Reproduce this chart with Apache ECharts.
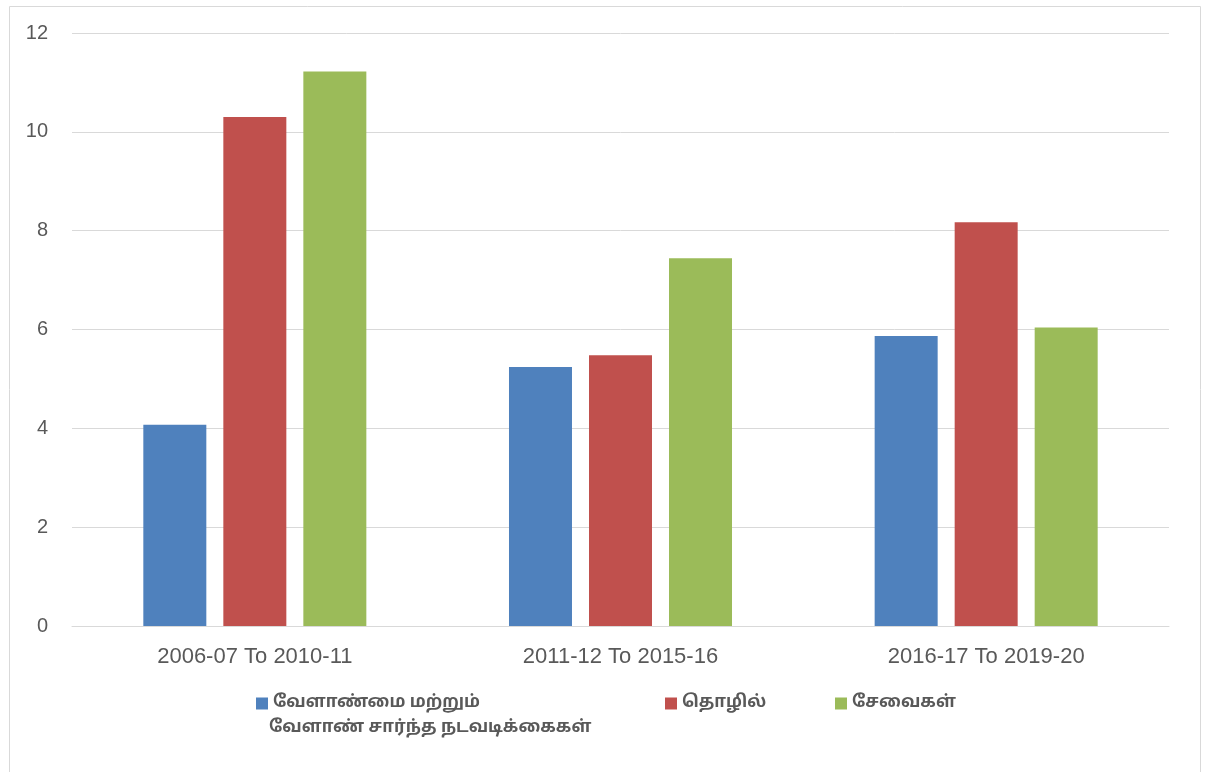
<!DOCTYPE html>
<html>
<head>
<meta charset="utf-8">
<script src="https://cdn.jsdelivr.net/npm/echarts@6/dist/echarts.min.js"></script>
<style>
html,body{margin:0;padding:0;background:#fff;}
#chart{width:1205px;height:772px;}
</style>
</head>
<body>
<div id="chart"></div>
<script>
const categories = ['2006-07 To 2010-11', '2011-12 To 2015-16', '2016-17 To 2019-20'];
const seriesNames = ['வேளாண்மை மற்றும்\nவேளாண் சார்ந்த நடவடிக்கைகள்', 'தொழில்', 'சேவைகள்'];
const agriculture = [4.07, 5.24, 5.87];
const industry = [10.30, 5.48, 8.17];
const services = [11.22, 7.44, 6.04];
const yTicks = [0, 2, 4, 6, 8, 10, 12];

const colors = ['#4F81BD', '#C0504D', '#9BBB59'];
const textColor = '#595959';
const latin = '"Liberation Sans", Arial, sans-serif';
const tamil = '"Noto Sans Tamil", "Lohit Tamil", "Latha", "Noto Sans", sans-serif';
const legendFontSize = 17;

const chart = echarts.init(document.getElementById('chart'));
const legendBase = {
  orient: 'horizontal',
  itemWidth: 12,
  itemHeight: 12,
  icon: 'rect',
  itemGap: 5,
  selectedMode: false,
  formatter: function (name) { return name.split('\n')[0]; },
  textStyle: { color: textColor, fontSize: legendFontSize, fontWeight: 'bold', fontFamily: tamil }
};
const firstNameLines = seriesNames[0].split('\n');
chart.setOption({
  animation: false,
  color: colors,
  graphic: [{
    type: 'rect', left: 7, top: 4,
    shape: { width: 1191, height: 766 },
    style: { fill: 'none', stroke: '#d9d9d9', lineWidth: 1 },
    silent: true
  }, {
    type: 'text', left: 269, top: 720,
    style: {
      text: firstNameLines[1], fill: textColor, fontSize: legendFontSize,
      fontWeight: 'bold', fontFamily: tamil
    },
    silent: true
  }],
  grid: { left: 72, right: 36, top: 33, bottom: 146 },
  legend: [
    Object.assign({}, legendBase, { data: [seriesNames[0]], left: 251, top: 690 }),
    Object.assign({}, legendBase, { data: [seriesNames[1]], left: 660, top: 690 }),
    Object.assign({}, legendBase, { data: [seriesNames[2]], left: 830, top: 690 })
  ],
  xAxis: {
    type: 'category',
    data: categories,
    axisLine: { show: true, lineStyle: { color: '#d9d9d9', width: 1 } },
    axisTick: { show: false },
    axisLabel: { color: textColor, fontSize: 22, fontFamily: latin, margin: 20 }
  },
  yAxis: {
    type: 'value',
    min: yTicks[0],
    max: yTicks[yTicks.length - 1],
    interval: 2,
    axisLine: { show: false },
    axisTick: { show: false },
    splitLine: { lineStyle: { color: '#d9d9d9', width: 1 } },
    axisLabel: { color: textColor, fontSize: 20, fontFamily: latin, margin: 24 }
  },
  series: [
    { name: seriesNames[0], type: 'bar', data: agriculture, barWidth: 63, barGap: '27%' },
    { name: seriesNames[1], type: 'bar', data: industry, barWidth: 63, barGap: '27%' },
    { name: seriesNames[2], type: 'bar', data: services, barWidth: 63, barGap: '27%' }
  ]
});
</script>
</body>
</html>
